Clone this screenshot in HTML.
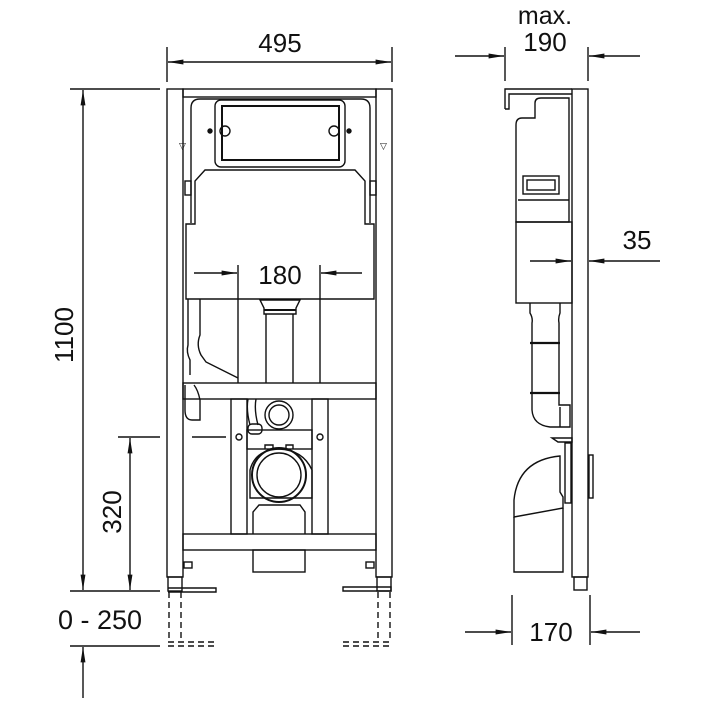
<!DOCTYPE html>
<html><head><meta charset="utf-8"><style>
html,body{margin:0;padding:0;background:#fff;width:709px;height:709px;overflow:hidden}
text{font-family:"Liberation Sans","DejaVu Sans",sans-serif;fill:#111}
</style></head><body>
<svg width="709" height="709" viewBox="0 0 709 709" xmlns="http://www.w3.org/2000/svg">
<defs>
<marker id="b" viewBox="0 0 22 10" refX="22" refY="5" markerWidth="22" markerHeight="7" markerUnits="userSpaceOnUse" orient="auto"><path d="M0,1.5 L22,5 L0,8.5 Z" fill="#111"/></marker>
</defs>
<g stroke="#111" stroke-width="1.4" fill="none">
<line x1="167" y1="47" x2="167" y2="82"/><line x1="392" y1="47" x2="392" y2="82"/>
<line x1="280" y1="62" x2="168" y2="62" marker-end="url(#b)"/>
<line x1="280" y1="62" x2="391" y2="62" marker-end="url(#b)"/>
<line x1="70" y1="89" x2="160" y2="89"/>
<line x1="83" y1="330" x2="83" y2="90" marker-end="url(#b)"/>
<line x1="83" y1="330" x2="83" y2="590" marker-end="url(#b)"/>
<line x1="70" y1="591" x2="160" y2="591"/>
<line x1="118" y1="437" x2="160" y2="437"/>
<line x1="130" y1="510" x2="130" y2="438" marker-end="url(#b)"/>
<line x1="130" y1="510" x2="130" y2="590" marker-end="url(#b)"/>
<line x1="70" y1="646" x2="160" y2="646"/>
<line x1="83" y1="698" x2="83" y2="647" marker-end="url(#b)"/>
<rect x="167" y="89" width="16" height="488"/>
<rect x="376" y="89" width="16" height="488"/>
<rect x="183" y="89" width="193" height="8"/>
<rect x="168" y="577" width="14" height="14"/><rect x="377" y="577" width="14" height="14"/>
<rect x="183" y="383" width="193" height="16"/>
<rect x="183" y="534" width="193" height="16"/>
<path d="M191,223 V108 Q191,99 200,99 H361 Q370,99 370,108 V223"/>
<rect x="215" y="100" width="130" height="67" rx="6"/>
<rect x="222" y="106" width="117" height="54" stroke-width="2"/>
<circle cx="225" cy="131" r="5"/><circle cx="334" cy="131" r="5"/>
<circle cx="210" cy="131" r="2" fill="#111"/><circle cx="349" cy="131" r="2" fill="#111"/>
<rect x="185" y="181" width="6" height="14"/><rect x="370" y="181" width="6" height="14"/>
<path d="M186,299 V224 H195 V181 L205,170 H355 L365,181 V224 H374 V299 Z"/>
<line x1="238" y1="265" x2="238" y2="383"/><line x1="320" y1="265" x2="320" y2="383"/>
<line x1="194" y1="273" x2="237" y2="273" marker-end="url(#b)"/>
<line x1="362" y1="273" x2="321" y2="273" marker-end="url(#b)"/>
<path d="M260,300 H300 L296,308 V314 H264 V308 Z"/>
<line x1="264" y1="310" x2="296" y2="310" stroke-width="2"/>
<line x1="266" y1="314" x2="266" y2="383"/><line x1="293" y1="314" x2="293" y2="383"/>
<path d="M200,299 V335 Q196,345 201,355 L206,362 L238,378"/>
<path d="M188,299 V345 Q186,352 190,360 V375"/>
<rect x="231" y="399" width="16" height="135"/><rect x="312" y="399" width="16" height="135"/>
<circle cx="239" cy="437" r="3"/><circle cx="320" cy="437" r="3"/>
<circle cx="279" cy="415" r="14"/><circle cx="279" cy="415" r="10"/>
<path d="M248,399 Q246,410 250,425 M256,399 Q254,410 258,425"/>
<rect x="248" y="424" width="14" height="10" rx="4"/>
<rect x="247" y="430" width="65" height="19"/>
<path d="M265,449 V445 H273 V449 M286,449 V445 H293 V449"/>
<path d="M250,498 V470 Q255,450 279,449 Q303,450 312,470 V498 Z"/>
<circle cx="279" cy="475" r="27" stroke-width="2"/><circle cx="279" cy="475" r="22"/>
<path d="M253,534 V512 L259,505 H300 L305,512 V534"/>
<rect x="253" y="550" width="52" height="22"/>
<path d="M185,385 V410 Q185,420 192,420 H200 V400 Q198,390 194,385"/>
<line x1="192" y1="437" x2="226" y2="437"/>
<rect x="184" y="562" width="8" height="6"/><rect x="366" y="562" width="8" height="6"/>
<path d="M168,588 H216 V592 H168"/><path d="M343,587 H391 V591 H343 Z"/>
<g stroke-dasharray="6,4">
<line x1="169" y1="592" x2="169" y2="642"/><line x1="181" y1="592" x2="181" y2="642"/>
<line x1="378" y1="592" x2="378" y2="642"/><line x1="390" y1="592" x2="390" y2="642"/>
<path d="M168,642 H216 M168,646 H216 M343,642 H391 M343,646 H391"/>
</g>
<line x1="505" y1="47" x2="505" y2="81"/><line x1="588" y1="47" x2="588" y2="81"/>
<line x1="455" y1="56" x2="504" y2="56" marker-end="url(#b)"/>
<line x1="640" y1="56" x2="589" y2="56" marker-end="url(#b)"/>
<rect x="572" y="89" width="16" height="488"/>
<rect x="574" y="577" width="13" height="13"/>
<path d="M505,109 V89 H572 M505,109 H509 V94 H572"/>
<path d="M516,140 V125 Q516,118 522,118 H535 V103 Q535,98 541,98 H569 V222 H516 Z"/>
<rect x="523" y="176" width="36" height="18"/><rect x="527" y="180" width="28" height="10"/>
<line x1="518" y1="200" x2="569" y2="200"/>
<rect x="516" y="222" width="56" height="81"/>
<line x1="530" y1="261" x2="571" y2="261" marker-end="url(#b)"/>
<line x1="660" y1="261" x2="589" y2="261" marker-end="url(#b)"/>
<path d="M530,303 V313 Q533,318 532,323 V410 Q533,425 550,427 H570 V405 H559 V323 Q558,318 560,313 V303"/>
<line x1="530" y1="343" x2="560" y2="343" stroke-width="2.2"/><line x1="530" y1="393" x2="560" y2="393" stroke-width="2.2"/>
<line x1="560" y1="407" x2="560" y2="427"/>
<path d="M552,438 H572 V442 H558 Z"/>
<rect x="565" y="443" width="6" height="60"/>
<rect x="589" y="455" width="4" height="43"/>
<path d="M514,517 V500 Q518,460 560,456 V492 L563,497 V508 L514,517 Z"/>
<path d="M514,517 V572 H563 V508"/>
<line x1="512" y1="595" x2="512" y2="645"/><line x1="590" y1="595" x2="590" y2="645"/>
<line x1="465" y1="632" x2="511" y2="632" marker-end="url(#b)"/>
<line x1="640" y1="632" x2="591" y2="632" marker-end="url(#b)"/>
</g>
<text x="179" y="149" font-size="9">▽</text><text x="380" y="149" font-size="9">▽</text>
<text x="280" y="52" font-size="26" text-anchor="middle">495</text>
<text x="280" y="284" font-size="26" text-anchor="middle">180</text>
<text font-size="26" text-anchor="middle" transform="translate(73,335) rotate(-90)">1100</text>
<text font-size="26" text-anchor="middle" transform="translate(121,512) rotate(-90)">320</text>
<text x="100" y="629" font-size="27" text-anchor="middle">0 - 250</text>
<text x="545" y="24" font-size="25" text-anchor="middle">max.</text>
<text x="545" y="51" font-size="26" text-anchor="middle">190</text>
<text x="637" y="249" font-size="26" text-anchor="middle">35</text>
<text x="551" y="641" font-size="26" text-anchor="middle">170</text>
</svg>
</body></html>
